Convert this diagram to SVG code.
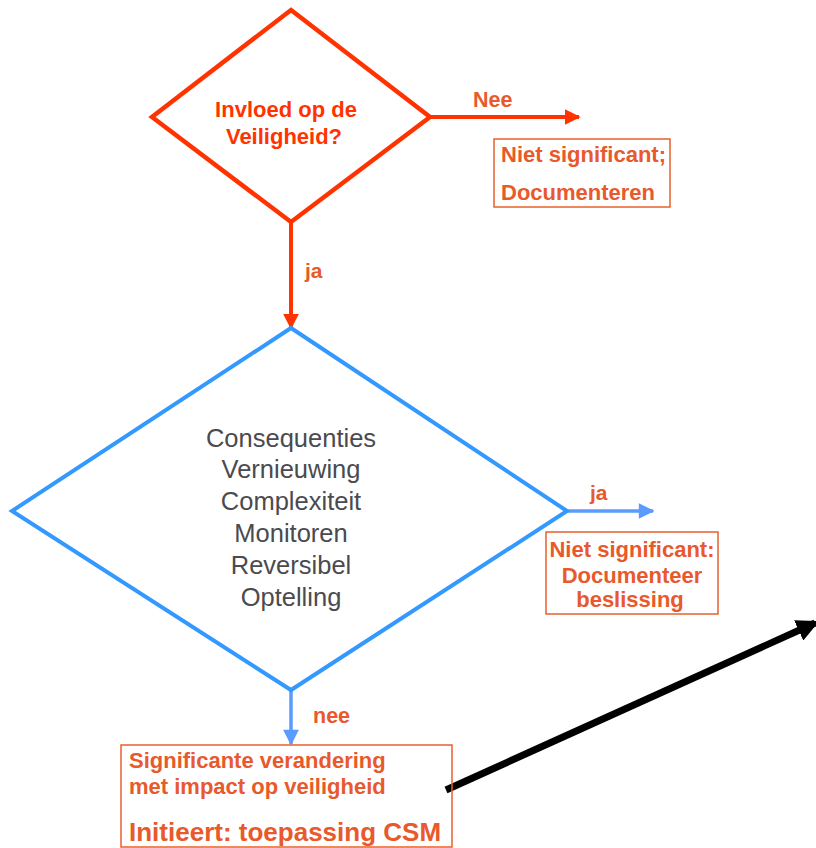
<svg xmlns="http://www.w3.org/2000/svg" width="816" height="848" viewBox="0 0 816 848">
<style>
.b{font-family:"Liberation Sans",Arial,sans-serif;font-weight:bold;fill:#E8592B}
.box{fill:none;stroke:#E8602C;stroke-width:1.5}
</style>
<defs>
<marker id="mr" viewBox="0 0 10 10" refX="9" refY="5" markerWidth="4" markerHeight="4" orient="auto" markerUnits="strokeWidth"><path d="M0,0L10,5L0,10z" fill="#FF3300"/></marker>
<marker id="mb" viewBox="0 0 10 10" refX="9" refY="5" markerWidth="5" markerHeight="4.5" orient="auto" markerUnits="strokeWidth"><path d="M0,0L10,5L0,10z" fill="#5B9BFF"/></marker>
<marker id="mk" viewBox="0 0 10 10" refX="8" refY="5" markerWidth="3.2" markerHeight="3.2" orient="auto" markerUnits="strokeWidth"><path d="M0,0L10,5L0,10z" fill="#000"/></marker>
</defs>
<rect width="816" height="848" fill="#fff"/>
<g id="connectors">
<line x1="430" y1="117" x2="579" y2="117" stroke="#FF3300" stroke-width="4" marker-end="url(#mr)"/>
<line x1="291" y1="222" x2="291" y2="328" stroke="#FF3300" stroke-width="4" marker-end="url(#mr)"/>
<line x1="567" y1="511" x2="653" y2="511" stroke="#5B9BFF" stroke-width="3.5" marker-end="url(#mb)"/>
<line x1="291" y1="690" x2="291" y2="744" stroke="#5B9BFF" stroke-width="3.5" marker-end="url(#mb)"/>
<line x1="446" y1="790" x2="815" y2="623" stroke="#000" stroke-width="7" marker-end="url(#mk)"/>
<text class="b" x="473" y="107" font-size="21.5">Nee</text>
<text class="b" x="305" y="278" font-size="21">ja</text>
<text class="b" x="590" y="500" font-size="21">ja</text>
<text class="b" x="313" y="723" font-size="21.5">nee</text>
</g>
<g id="decision1">
<polygon points="291,10 430,117 291,222 152,117" fill="#fff" stroke="#FF3300" stroke-width="4.5" stroke-linejoin="miter"/>
<text class="b" x="286" y="117" font-size="22" text-anchor="middle" style="fill:#FF3300">Invloed op de</text>
<text class="b" x="284" y="144" font-size="22" text-anchor="middle" style="fill:#FF3300">Veiligheid?</text>
</g>
<g id="box1">
<rect class="box" x="494" y="139" width="176" height="68"/>
<text class="b" x="501" y="162" font-size="22">Niet significant;</text>
<text class="b" x="501" y="200" font-size="22">Documenteren</text>
</g>
<g id="decision2">
<polygon points="291,328 567,511 291,690 12,511" fill="#fff" stroke="#3399FF" stroke-width="4"/>
<g font-family="Liberation Sans,Arial,sans-serif" font-size="25.5" fill="#4A4A4F" text-anchor="middle">
<text x="291" y="447">Consequenties</text>
<text x="291" y="478">Vernieuwing</text>
<text x="291" y="510">Complexiteit</text>
<text x="291" y="542">Monitoren</text>
<text x="291" y="574">Reversibel</text>
<text x="291" y="606">Optelling</text>
</g>
</g>
<g id="box2">
<rect class="box" x="546" y="532" width="172" height="82"/>
<text class="b" x="632" y="557" font-size="22" text-anchor="middle">Niet significant:</text>
<text class="b" x="632" y="583" font-size="22" text-anchor="middle">Documenteer</text>
<text class="b" x="630" y="607" font-size="22" text-anchor="middle">beslissing</text>
</g>
<g id="box3">
<rect class="box" x="121" y="745" width="331" height="102"/>
<text class="b" x="129" y="768" font-size="22">Significante verandering</text>
<text class="b" x="129" y="794" font-size="22">met impact op veiligheid</text>
<text class="b" x="129" y="841" font-size="26">Initieert: toepassing CSM</text>
</g>
</svg>
